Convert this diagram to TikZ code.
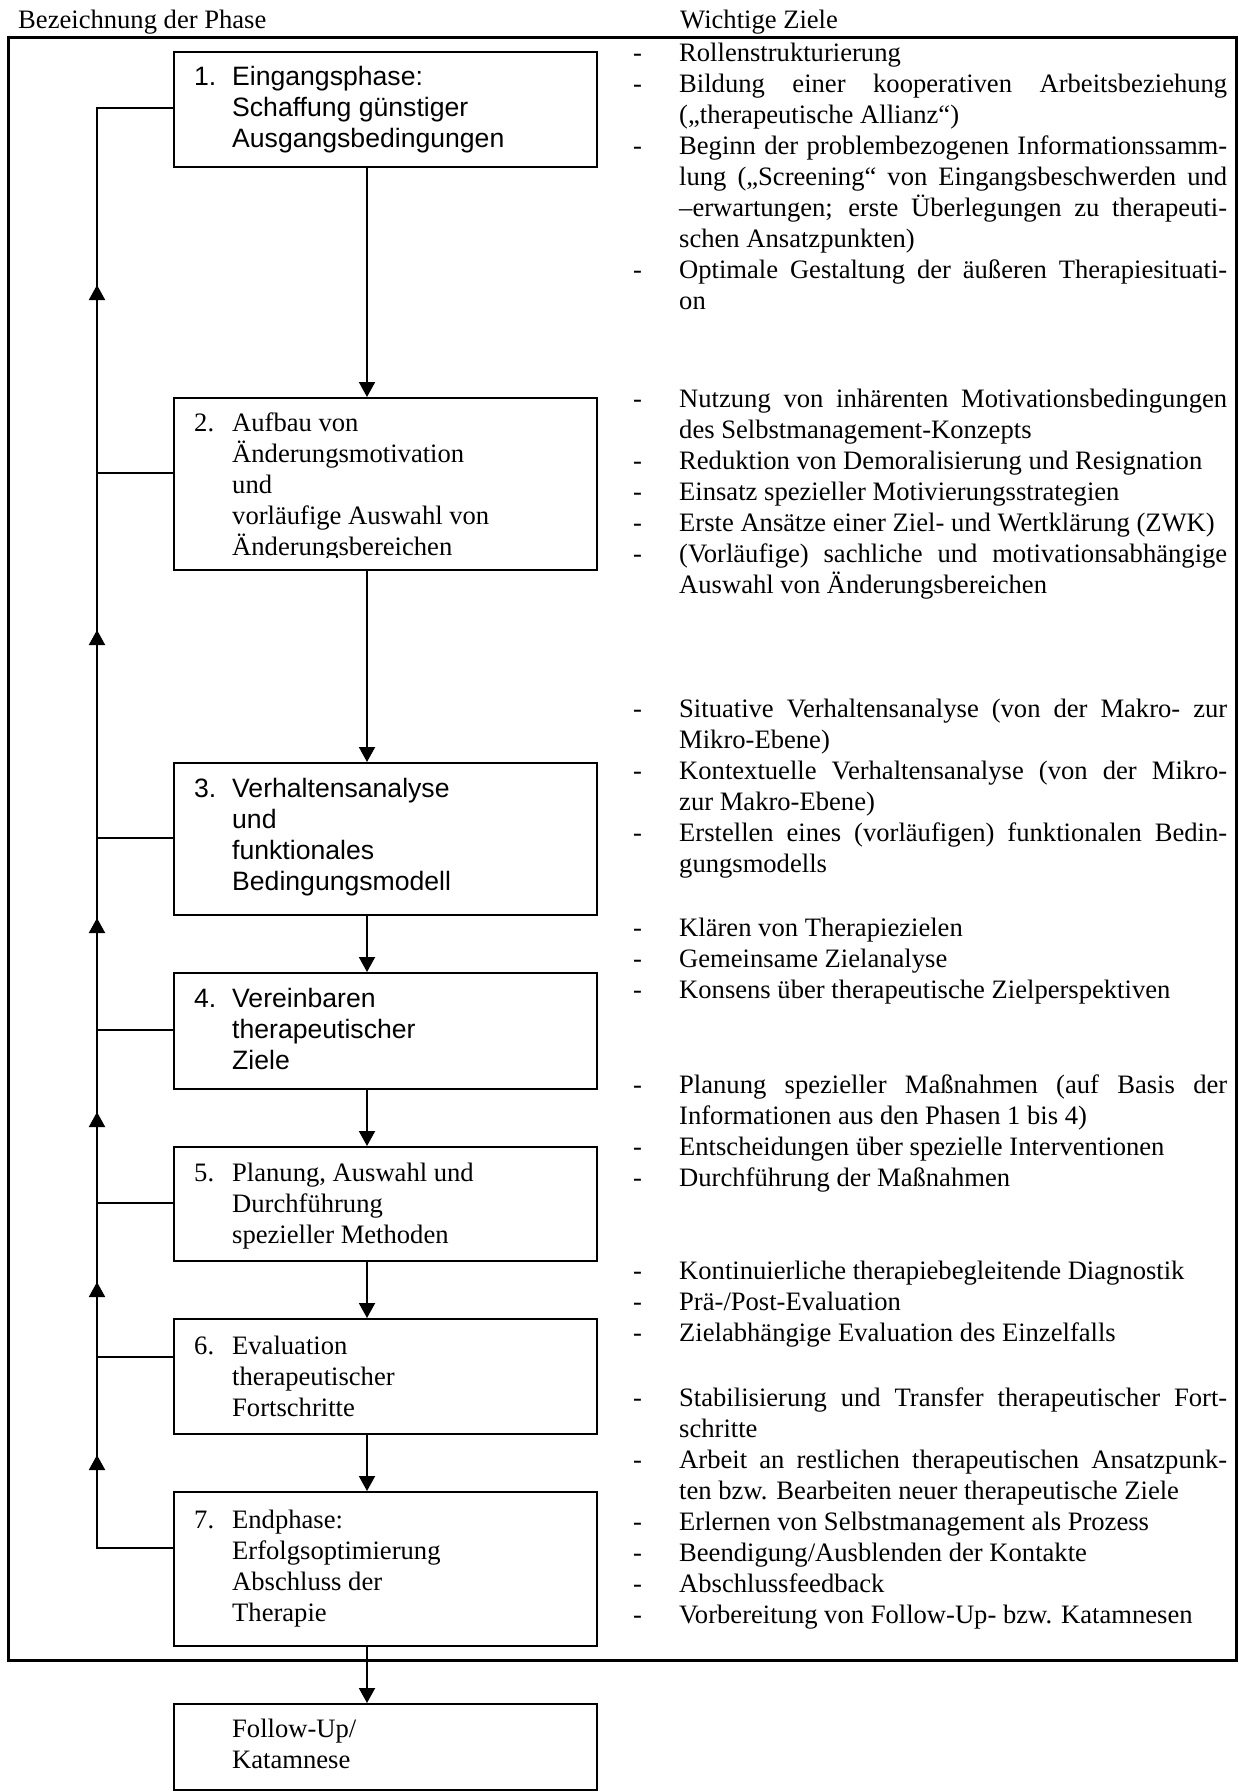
\documentclass[tikz,border=0pt]{standalone}
\usepackage{fontspec}
\setmainfont{Liberation Serif}
\setsansfont{Liberation Sans}
\usetikzlibrary{arrows.meta}

% text size used throughout (1 unit = 1pt)
\newcommand\txtsize{\fontsize{26.6pt}{31pt}\selectfont}
% a stack of lines with a fixed baseline distance
\newcommand\stacklines[1]{\vtop{\baselineskip=31pt\lineskiplimit=-100pt\lineskip=0pt\relax #1}}
% line of a phase box: number column + text
\newcommand\phline[2]{\hbox{\makebox[38pt][l]{#1}#2}}
% line of the goal column: dash column + justified / left-aligned text
\newcommand\goalj[2]{\hbox{\makebox[46pt][l]{#1}\makebox[548pt][s]{#2}}}
\newcommand\goall[2]{\hbox{\makebox[46pt][l]{#1}#2}}

\tikzset{
  phasebox/.style={draw, rectangle, line width=2pt, minimum width=423pt,
                   inner sep=0pt, anchor=north west},
  boxtext/.style={anchor=base west, inner sep=0pt, font=\txtsize},
  goal/.style={anchor=base west, inner sep=0pt, font=\txtsize\rmfamily},
  flow/.style={line width=2pt, -{Triangle[width=16pt,length=15pt]}},
  link/.style={line width=2pt},
  outerframe/.style={line width=3pt},
}

\begin{document}
\begin{tikzpicture}[x=1pt, y=-1pt]
\useasboundingbox (0,0) rectangle (1239,1792);

% column headings
\node[goal] (hdl) at (18,28) {Bezeichnung der Phase};
\node[goal] (hdr) at (680,28) {Wichtige Ziele};

% frame around the therapy phases
\draw[outerframe] (8,37) rectangle (1236,1660);

% phase boxes
\node[phasebox, minimum height=115pt] (b1) at (173,51) {};
\node[phasebox, minimum height=172pt] (b2) at (173,397) {};
\node[phasebox, minimum height=152pt] (b3) at (173,762) {};
\node[phasebox, minimum height=116pt] (b4) at (173,972) {};
\node[phasebox, minimum height=114pt] (b5) at (173,1146) {};
\node[phasebox, minimum height=115pt] (b6) at (173,1318) {};
\node[phasebox, minimum height=154pt] (b7) at (173,1491) {};
\node[phasebox, minimum height=86pt]  (fu) at (173,1703) {};

% phase titles
\node[boxtext, font=\txtsize\sffamily] (t1) at (194,85) {\stacklines{%
  \phline{1.}{Eingangsphase:}\phline{}{Schaffung günstiger}\phline{}{Ausgangsbedingungen}}};
\begin{scope}
  \clip (173,397) rectangle (596,557);
  \node[boxtext, font=\txtsize\rmfamily] (t2) at (194,431) {\stacklines{%
    \phline{2.}{Aufbau von}\phline{}{Änderungsmotivation}\phline{}{und}%
    \phline{}{vorläufige Auswahl von}\phline{}{Änderungsbereichen}}};
\end{scope}
\node[boxtext, font=\txtsize\sffamily] (t3) at (194,797) {\stacklines{%
  \phline{3.}{Verhaltensanalyse}\phline{}{und}\phline{}{funktionales}\phline{}{Bedingungsmodell}}};
\node[boxtext, font=\txtsize\sffamily] (t4) at (194,1007) {\stacklines{%
  \phline{4.}{Vereinbaren}\phline{}{therapeutischer}\phline{}{Ziele}}};
\node[boxtext, font=\txtsize\rmfamily] (t5) at (194,1181) {\stacklines{%
  \phline{5.}{Planung, Auswahl und}\phline{}{Durchführung}\phline{}{spezieller Methoden}}};
\node[boxtext, font=\txtsize\rmfamily] (t6) at (194,1354) {\stacklines{%
  \phline{6.}{Evaluation}\phline{}{therapeutischer}\phline{}{Fortschritte}}};
\node[boxtext, font=\txtsize\rmfamily] (t7) at (194,1528) {\stacklines{%
  \phline{7.}{Endphase:}\phline{}{Erfolgsoptimierung}\phline{}{Abschluss der}\phline{}{Therapie}}};
\node[boxtext, font=\txtsize\rmfamily] (tfu) at (232,1737) {\stacklines{%
  \hbox{Follow-Up/}\hbox{Katamnese}}};

% sequence of phases
\draw[flow] ([xshift=-18.5pt]b1.south) -- ([xshift=-18.5pt]b2.north);
\draw[flow] ([xshift=-18.5pt]b2.south) -- ([xshift=-18.5pt]b3.north);
\draw[flow] ([xshift=-18.5pt]b3.south) -- ([xshift=-18.5pt]b4.north);
\draw[flow] ([xshift=-18.5pt]b4.south) -- ([xshift=-18.5pt]b5.north);
\draw[flow] ([xshift=-18.5pt]b5.south) -- ([xshift=-18.5pt]b6.north);
\draw[flow] ([xshift=-18.5pt]b6.south) -- ([xshift=-18.5pt]b7.north);
\draw[flow] ([xshift=-18.5pt]b7.south) -- ([xshift=-18.5pt]fu.north);

% feedback loop on the left
\coordinate (l1) at (97,108);
\coordinate (l2) at (97,473);
\coordinate (l3) at (97,838);
\coordinate (l4) at (97,1030);
\coordinate (l5) at (97,1203);
\coordinate (l6) at (97,1357);
\coordinate (l7) at (97,1548);
\draw[link] (b7.west |- l7) -- (l7) -- (l1) -- (b1.west |- l1);
\foreach \k in {2,...,6} \draw[link] (b\k.west |- l\k) -- (l\k);

\coordinate (u1) at (97,285);
\coordinate (u2) at (97,630);
\coordinate (u3) at (97,918);
\coordinate (u4) at (97,1112);
\coordinate (u5) at (97,1282);
\coordinate (u6) at (97,1455);
\foreach \k in {1,...,6} \draw[flow] ([yshift=-18pt]u\k) -- (u\k);

% goals of each phase
\node[goal] (g1) at (633,61) {\stacklines{%
  \goall{-}{Rollenstrukturierung}%
  \goalj{-}{Bildung einer kooperativen Arbeitsbeziehung}%
  \goall{}{(„therapeutische Allianz“)}%
  \goalj{-}{Beginn der problembezogenen Informationssamm-}%
  \goalj{}{lung („Screening“ von Eingangsbeschwerden und}%
  \goalj{}{–erwartungen; erste Überlegungen zu therapeuti-}%
  \goall{}{schen Ansatzpunkten)}%
  \goalj{-}{Optimale Gestaltung der äußeren Therapiesituati-}%
  \goall{}{on}}};

\node[goal] (g2) at (633,407) {\stacklines{%
  \goalj{-}{Nutzung von inhärenten Motivationsbedingungen}%
  \goall{}{des Selbstmanagement-Konzepts}%
  \goall{-}{Reduktion von Demoralisierung und Resignation}%
  \goall{-}{Einsatz spezieller Motivierungsstrategien}%
  \goall{-}{Erste Ansätze einer Ziel- und Wertklärung (ZWK)}%
  \goalj{-}{(Vorläufige) sachliche und motivationsabhängige}%
  \goall{}{Auswahl von Änderungsbereichen}}};

\node[goal] (g3) at (633,717) {\stacklines{%
  \goalj{-}{Situative Verhaltensanalyse (von der Makro- zur}%
  \goall{}{Mikro-Ebene)}%
  \goalj{-}{Kontextuelle Verhaltensanalyse (von der Mikro-}%
  \goall{}{zur Makro-Ebene)}%
  \goalj{-}{Erstellen eines (vorläufigen) funktionalen Bedin-}%
  \goall{}{gungsmodells}}};

\node[goal] (g4) at (633,936) {\stacklines{%
  \goall{-}{Klären von Therapiezielen}%
  \goall{-}{Gemeinsame Zielanalyse}%
  \goall{-}{Konsens über therapeutische Zielperspektiven}}};

\node[goal] (g5) at (633,1093) {\stacklines{%
  \goalj{-}{Planung spezieller Maßnahmen (auf Basis der}%
  \goall{}{Informationen aus den Phasen 1 bis 4)}%
  \goall{-}{Entscheidungen über spezielle Interventionen}%
  \goall{-}{Durchführung der Maßnahmen}}};

\node[goal] (g6) at (633,1279) {\stacklines{%
  \goall{-}{Kontinuierliche therapiebegleitende Diagnostik}%
  \goall{-}{Prä-/Post-Evaluation}%
  \goall{-}{Zielabhängige Evaluation des Einzelfalls}}};

\node[goal] (g7) at (633,1406) {\stacklines{%
  \goalj{-}{Stabilisierung und Transfer therapeutischer Fort-}%
  \goall{}{schritte}%
  \goalj{-}{Arbeit an restlichen therapeutischen Ansatzpunk-}%
  \goall{}{ten bzw. Bearbeiten neuer therapeutische Ziele}%
  \goall{-}{Erlernen von Selbstmanagement als Prozess}%
  \goall{-}{Beendigung/Ausblenden der Kontakte}%
  \goall{-}{Abschlussfeedback}%
  \goall{-}{Vorbereitung von Follow-Up- bzw. Katamnesen}}};
\end{tikzpicture}
\end{document}
